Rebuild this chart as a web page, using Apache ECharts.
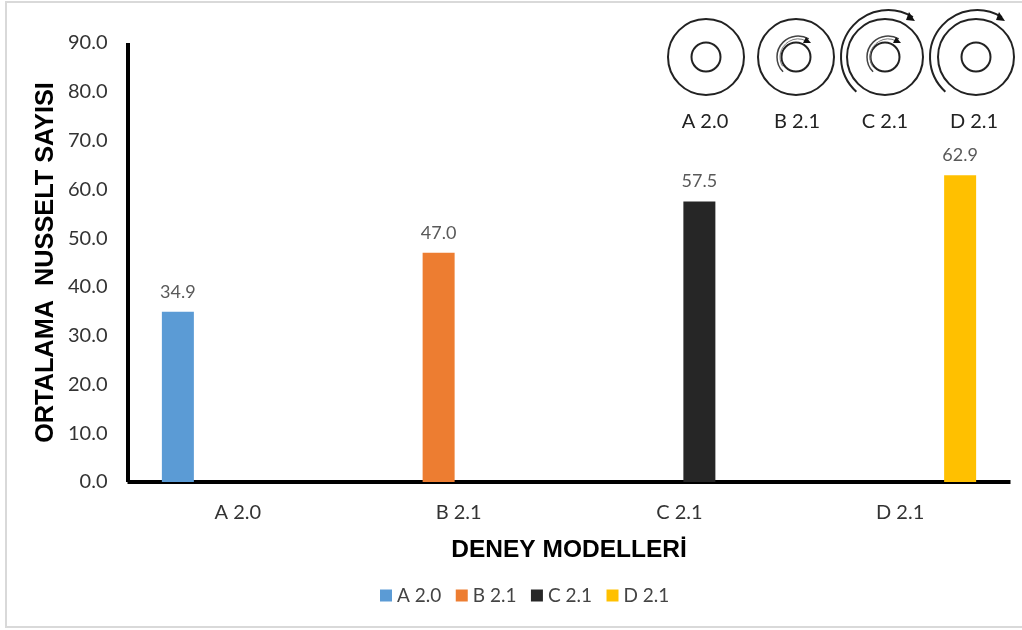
<!DOCTYPE html>
<html><head><meta charset="utf-8">
<style>html,body{margin:0;padding:0;background:#fff}#c{width:1022px;height:630px}</style>
<script src="https://cdn.jsdelivr.net/npm/echarts@6/dist/echarts.min.js"></script>
</head><body><div id="c"></div>
<script>
const categories = ['A 2.0','B 2.1','C 2.1','D 2.1'];
const seriesA = [34.9,null,null,null];
const seriesB = [null,47.0,null,null];
const seriesC = [null,null,57.5,null];
const seriesD = [null,null,null,62.9];
const colors = ['#5B9BD5','#ED7D31','#262626','#FFC000'];
const yTicks = {min:0,max:90,interval:10};
const iconLabels = ['A 2.0','B 2.1','C 2.1','D 2.1'];
const font = 'Lato, "Open Sans", sans-serif';
const chart = echarts.init(document.getElementById('c'),null,{renderer:'canvas'});
const mk = (name,data)=>({name,type:'bar',data,barWidth:32,barGap:'25%',
  label:{show:true,position:'top',distance:11,color:'#595959',fontFamily:font,fontSize:18,
    formatter:p=>p.value==null?'':p.value.toFixed(1)}});
const ring=(x,y,r,lw=2)=>({type:'circle',silent:true,shape:{cx:x,cy:y,r},style:{fill:'none',stroke:'#222',lineWidth:lw}});
const arc=(x,y,r,a,b,lw=2,c='#222')=>({type:'arc',silent:true,shape:{cx:x,cy:y,r,startAngle:a,endAngle:b,clockwise:true},style:{fill:'none',stroke:c,lineWidth:lw}});
const head=(pts)=>({type:'polygon',silent:true,shape:{points:pts},style:{fill:'#111'}});
const iconX=[706,796,885,976];
const graphic=[
 {type:'rect',silent:true,shape:{x:6,y:2,width:1040,height:625},style:{fill:'none',stroke:'#d9d9d9',lineWidth:2}},
 ...iconX.flatMap(x=>[ring(x,57,38),ring(x,57,14.5)]),
 arc(798,57,21,2.36,5.25,1.5,'#444'),arc(798,57,18,2.6,5.2,1,'#777'),head([[806,37],[811,43],[803,43]]),
 arc(888,57,21,2.36,5.25,1.5,'#444'),arc(888,57,18,2.6,5.2,1,'#777'),head([[896,37],[901,43],[893,43]]),
 arc(888,57,47,2.31,5.27,2),head([[909,12],[915,21],[906,20]]),
 arc(977,57,47,2.31,5.27,2),head([[999,12],[1005,21],[996,20]]),
 ...iconLabels.map((t,i)=>({type:'text',silent:true,x:[705,797,885,974][i],y:122,
   style:{text:t,fontFamily:font,fontSize:20,fill:'#222',align:'center',verticalAlign:'middle'}})),
];
chart.setOption({
 animation:false,backgroundColor:'#fff',color:colors,
 grid:{left:127.5,top:43,width:883,height:439,containLabel:false},
 legend:{left:375,top:581,itemWidth:12,itemHeight:12,itemGap:14.5,icon:'rect',
   textStyle:{fontFamily:font,fontSize:19,color:'#444',padding:[0,0,0,0]},data:categories},
 xAxis:{type:'category',data:categories,
   axisLine:{lineStyle:{color:'#000',width:4,cap:'butt'}},axisTick:{show:false},
   axisLabel:{fontFamily:font,fontSize:20,color:'#333',margin:21},
   name:'DENEY MODELLERİ',nameLocation:'middle',nameGap:56,
   nameTextStyle:{fontFamily:'"Liberation Sans"',fontWeight:'bold',fontSize:24.5,color:'#000'}},
 yAxis:{type:'value',min:yTicks.min,max:yTicks.max,interval:yTicks.interval,
   axisLine:{show:true,onZero:false,lineStyle:{color:'#000',width:4,cap:'butt'}},axisTick:{show:false},splitLine:{show:false},
   axisLabel:{fontFamily:font,fontSize:20,color:'#333',margin:20,formatter:v=>v.toFixed(1)},
   name:'ORTALAMA  NUSSELT SAYISI',nameLocation:'middle',nameGap:69,nameRotate:90,nameMoveOverlap:false,
   nameTextStyle:{fontFamily:'"Liberation Sans"',fontWeight:'bold',fontSize:25.3,color:'#000'}},
 series:[mk(categories[0],seriesA),mk(categories[1],seriesB),mk(categories[2],seriesC),mk(categories[3],seriesD)],
 graphic
});
</script></body></html>
